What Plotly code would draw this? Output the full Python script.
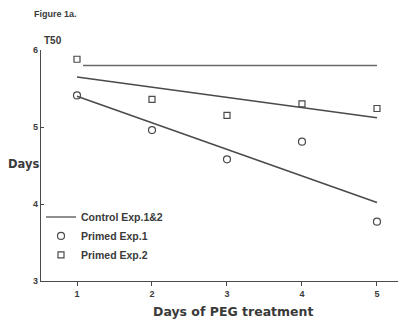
import plotly.graph_objects as go

days = [1, 2, 3, 4, 5]
primed_exp1 = [5.41, 4.96, 4.58, 4.81, 3.77]
primed_exp2 = [5.88, 5.36, 5.15, 5.30, 5.24]

control_days = [1.08, 5.0]
control_line = [5.80, 5.80]
fit_days = [1, 5]
fit_exp1 = [5.40, 4.02]
fit_exp2 = [5.65, 5.12]

x_ticks = [1, 2, 3, 4, 5]
y_ticks = [3, 4, 5, 6]

TXT = "#3a3a3a"
INK = "#4a4a4a"
FONT = "Liberation Sans, Arial, sans-serif"
WIDE = "DejaVu Sans, sans-serif"

fig = go.Figure()
fig.add_trace(go.Scatter(x=control_days, y=control_line, mode="lines",
                         line=dict(color="#6a6a6a", width=1.5),
                         name="Control Exp.1&2", legendgroup="a"))
fig.add_trace(go.Scatter(x=days, y=primed_exp1, mode="markers",
                         marker=dict(symbol="circle-open", size=7, color=INK, line=dict(width=1.2)),
                         name="Primed Exp.1", legendgroup="b"))
fig.add_trace(go.Scatter(x=days, y=primed_exp2, mode="markers",
                         marker=dict(symbol="square-open", size=6, color=INK, line=dict(width=1.2)),
                         name="Primed Exp.2", legendgroup="c"))
fig.add_trace(go.Scatter(x=fit_days, y=fit_exp1, mode="lines",
                         line=dict(color=INK, width=1.5), showlegend=False))
fig.add_trace(go.Scatter(x=fit_days, y=fit_exp2, mode="lines",
                         line=dict(color=INK, width=1.5), showlegend=False))

# page body has an 8px default margin; compensate so the plot lands at the reference position
fig.update_layout(
    width=398, height=313,
    margin=dict(l=33, r=6, t=42, b=40),
    paper_bgcolor="white", plot_bgcolor="white",
    font=dict(family=FONT, size=9, color=TXT),
    showlegend=True,
    legend=dict(x=0.0, y=0.34, xanchor="left", yanchor="top",
                bgcolor="rgba(0,0,0,0)",
                font=dict(size=10.5, color=TXT, family=FONT, weight="bold"),
                tracegroupgap=0, traceorder="grouped"),
    xaxis=dict(range=[0.52, 5.307], tickmode="array", tickvals=x_ticks,
               showgrid=False, zeroline=False, showline=True, linecolor=INK, linewidth=1.2,
               ticks="outside", ticklen=4, tickcolor=INK,
               tickfont=dict(size=9, color=TXT, family=FONT, weight="bold")),
    yaxis=dict(range=[3, 6], tickmode="array", tickvals=y_ticks,
               showgrid=False, zeroline=False, showline=True, linecolor=INK, linewidth=1.2,
               ticks="inside", ticklen=3, tickcolor=INK,
               tickfont=dict(size=9, color=TXT, family=FONT, weight="bold")),
)

fig.add_annotation(text="<b>Figure 1a.</b>", xref="paper", yref="paper",
                   x=-0.025, y=1.156, xanchor="left", yanchor="middle", showarrow=False,
                   font=dict(size=9, color=TXT, family=FONT))
fig.add_annotation(text="<b>T50</b>", xref="paper", yref="paper",
                   x=0.003, y=1.04, xanchor="left", yanchor="middle", showarrow=False,
                   font=dict(size=10, color=TXT, family=FONT))
fig.add_annotation(text="<b>Days</b>", xref="paper", yref="paper",
                   x=0.0, y=0.505, xanchor="right", yanchor="middle", showarrow=False,
                   font=dict(size=11.5, color=TXT, family=WIDE))
fig.add_annotation(text="<b>Days of PEG treatment</b>", xref="x", yref="paper",
                   x=3.08, y=-0.134, xanchor="center", yanchor="middle", showarrow=False,
                   font=dict(size=12.5, color=TXT, family=WIDE))

fig.write_html("out.html")
